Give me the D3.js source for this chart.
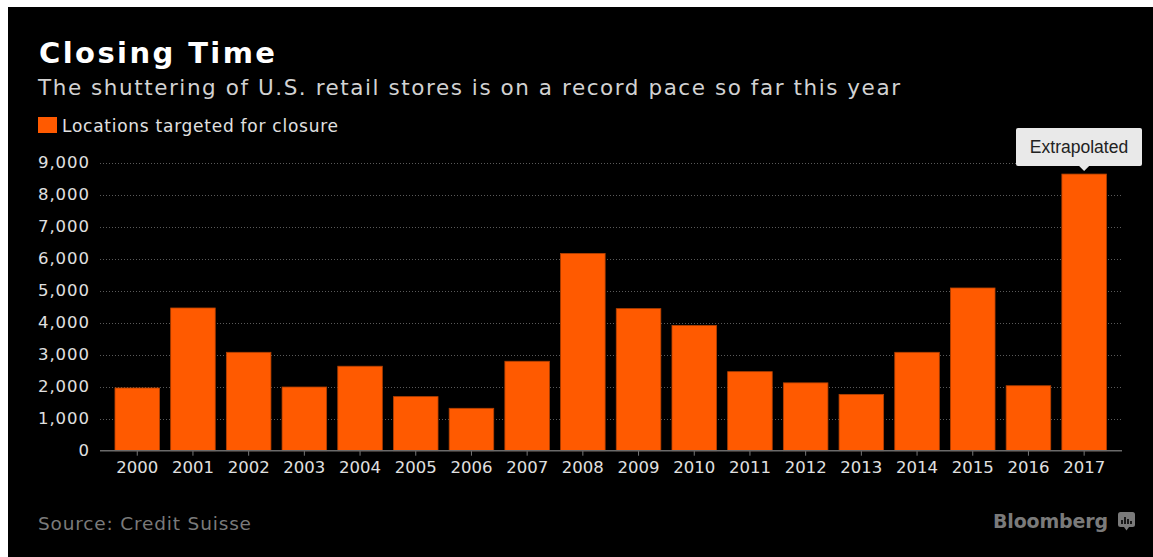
<!DOCTYPE html>
<html>
<head>
<meta charset="utf-8">
<script src="https://cdn.jsdelivr.net/npm/d3@7"></script>
<style>
  html, body { margin: 0; padding: 0; background: #fff; }
  svg { display: block; }
</style>
</head>
<body>
<svg id="chart" width="1153" height="557"></svg>
<script>
// data
const years = ['2000','2001','2002','2003','2004','2005','2006','2007','2008',
  '2009','2010','2011','2012','2013','2014','2015','2016','2017'];
const closures = [1960, 4460, 3075, 1990, 2640, 1690, 1325, 2795, 6165,
  4440, 3915, 2470, 2120, 1760, 3075, 5085, 2030, 8645];
const yTicks = [0, 1000, 2000, 3000, 4000, 5000, 6000, 7000, 8000, 9000];
const seriesName = 'Locations targeted for closure';
const calloutYear = '2017';
const calloutText = 'Extrapolated';

const W = 1153, H = 557;
const svg = d3.select('#chart');
const font = '"DejaVu Sans", Verdana, sans-serif';

// the original font is wider than DejaVu: stretch the letter spacing so a text spans `target` px
function fitSpacing(sel, target) {
  const node = sel.node();
  const n = node.textContent.length;
  const w = node.getComputedTextLength();
  const ls = (target - w) / Math.max(1, n - 1);
  sel.attr('letter-spacing', ls);
  return ls;
}

// black background with the thin white margin on top/left
svg.append('rect').attr('x', 8).attr('y', 7).attr('width', W - 8).attr('height', H - 7).attr('fill', '#000');

const x = d3.scaleBand().domain(years).range([109.4, 1112]).paddingInner(0.2).paddingOuter(0.1);
const y = d3.scaleLinear().domain([0, 9000]).range([450.7, 162.7]);
const axL = 100, axR = 1122;

// title, subtitle
const title = svg.append('text').attr('x', 39).attr('y', 63)
  .attr('font-family', font).attr('font-weight', 'bold').attr('font-size', 29)
  .attr('fill', '#fff').text('Closing Time');
fitSpacing(title, 236);
const sub = svg.append('text').attr('x', 38).attr('y', 95)
  .attr('font-family', font).attr('font-size', 21.5)
  .attr('fill', '#d2d2d2').text('The shuttering of U.S. retail stores is on a record pace so far this year');
fitSpacing(sub, 862);

// legend
svg.append('rect').attr('x', 38).attr('y', 117).attr('width', 19).attr('height', 16).attr('fill', '#ff5a00');
const leg = svg.append('text').attr('x', 62).attr('y', 132)
  .attr('font-family', font).attr('font-size', 17)
  .attr('fill', '#e0e0e0').text(seriesName);
fitSpacing(leg, 276);

// gridlines
svg.append('g').selectAll('line').data(yTicks.filter(d => d > 0)).join('line')
  .attr('x1', axL).attr('x2', axR)
  .attr('y1', d => Math.round(y(d)) + 0.5).attr('y2', d => Math.round(y(d)) + 0.5)
  .attr('stroke', '#5a5a5a').attr('stroke-width', 1).attr('stroke-dasharray', '1,2');

// y axis labels, right edge at x=89
const yAxis = svg.append('g').attr('transform', `translate(${axL},0)`)
  .call(d3.axisLeft(y).tickValues(yTicks).tickFormat(d3.format(',')).tickSize(0).tickPadding(11));
yAxis.select('.domain').remove();
const yText = yAxis.selectAll('text').attr('font-family', font).attr('font-size', 16.5).attr('fill', '#e0e0e0');
const yLs = fitSpacing(yText.filter(d => d === 9000), 51);
yText.attr('letter-spacing', yLs).attr('dx', yLs);

// bars
svg.append('g').selectAll('rect').data(years).join('rect')
  .attr('x', d => x(d)).attr('width', x.bandwidth())
  .attr('y', (d, i) => y(closures[i])).attr('height', (d, i) => y(0) - y(closures[i]))
  .attr('fill', '#ff5a00').attr('stroke', '#b34000').attr('stroke-width', 0.8);

// x axis
const xAxis = svg.append('g').attr('transform', `translate(0,${y(0)})`)
  .call(d3.axisBottom(x).tickSize(5).tickPadding(6));
xAxis.select('.domain').remove();
xAxis.selectAll('line').attr('stroke', '#777');
const xText = xAxis.selectAll('text').attr('font-family', font).attr('font-size', 16.5).attr('fill', '#e0e0e0');
const xLs = fitSpacing(xText.filter(d => d === '2000'), 42);
xText.attr('letter-spacing', xLs).attr('dx', xLs / 2);
svg.append('line').attr('x1', axL).attr('x2', axR).attr('y1', y(0)).attr('y2', y(0))
  .attr('stroke', '#6a6a6a').attr('stroke-width', 1.5);

// callout above 2017
const cIdx = years.indexOf(calloutYear);
const cx = x(calloutYear) + x.bandwidth() / 2;
const tipY = y(closures[cIdx]) - 3;
const bw = 126, bh = 38, by = tipY - 5 - bh;
const bx = Math.min(cx - bw / 2, W - 11 - bw);
const callout = svg.append('g');
callout.append('rect').attr('x', bx).attr('y', by).attr('width', bw).attr('height', bh)
  .attr('rx', 2).attr('fill', '#e9e9e9');
callout.append('path')
  .attr('d', `M${cx - 5},${by + bh} L${cx},${tipY} L${cx + 5},${by + bh} Z`).attr('fill', '#e9e9e9');
callout.append('text').attr('x', bx + bw / 2).attr('y', by + 25).attr('text-anchor', 'middle')
  .attr('font-family', '"Liberation Sans", Arial, sans-serif').attr('font-size', 17.5)
  .attr('fill', '#222').text(calloutText);

// footer
const src = svg.append('text').attr('x', 38).attr('y', 530)
  .attr('font-family', font).attr('font-size', 18.5)
  .attr('fill', '#7a7a7a').text('Source: Credit Suisse');
fitSpacing(src, 213);
const brand = svg.append('text').attr('x', 993).attr('y', 528)
  .attr('font-family', font).attr('font-weight', 'bold').attr('font-size', 19)
  .attr('fill', '#7a7a7a').text('Bloomberg');
fitSpacing(brand, 115);
const logo = svg.append('g').attr('transform', 'translate(1118,512)');
logo.append('rect').attr('width', 17).attr('height', 15).attr('rx', 2.5).attr('fill', '#7a7a7a');
logo.append('path').attr('d', 'M6,15 L8.5,18.5 L11,15 Z').attr('fill', '#7a7a7a');
[[4, 8], [7, 5], [10, 7], [13, 9]].forEach(([lx, ly]) => {
  logo.append('rect').attr('x', lx - 0.8).attr('y', ly).attr('width', 1.6).attr('height', 12 - ly).attr('fill', '#000');
});
</script>
</body>
</html>
